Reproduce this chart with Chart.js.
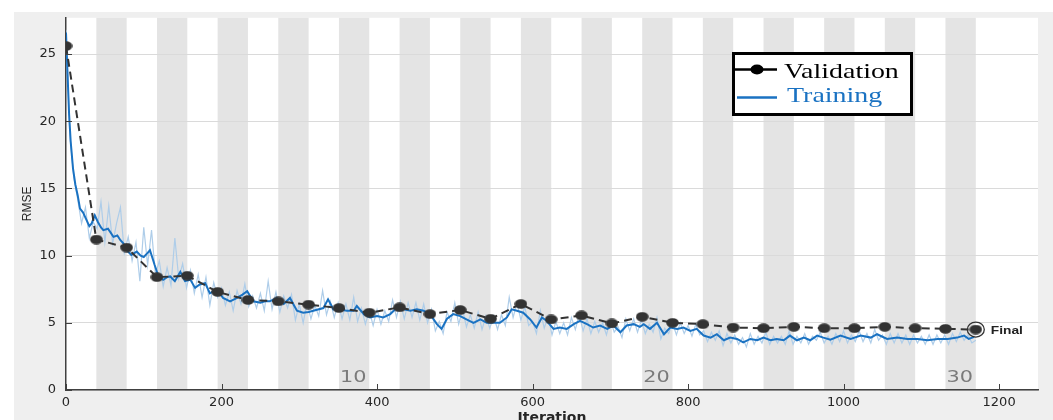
<!DOCTYPE html>
<html>
<head>
<meta charset="utf-8">
<script src="https://cdn.jsdelivr.net/npm/chart.js@4.4.1/dist/chart.umd.min.js"></script>
<style>
  html, body { margin: 0; padding: 0; background: #fff; }
  #wrap { width: 1053px; height: 420px; }
</style>
</head>
<body>
<div id="wrap"><canvas id="rmse" width="1053" height="420"></canvas></div>
<script>
// validation RMSE, one point per epoch
const valIter = [0, 39, 78, 117, 156, 195, 234, 273, 312, 351, 390, 429, 468, 507, 546, 585,
  624, 663, 702, 741, 780, 819, 858, 897, 936, 975, 1014, 1053, 1092, 1131, 1170];
const valRmse = [25.6, 11.2, 10.6, 8.4, 8.5, 7.3, 6.7, 6.6, 6.35, 6.1, 5.75, 6.15, 5.65, 5.95, 5.3, 6.4,
  5.25, 5.55, 4.95, 5.45, 5.0, 4.9, 4.65, 4.6, 4.7, 4.6, 4.6, 4.7, 4.6, 4.55, 4.5];

// smoothed training RMSE
const trainIter = [0, 2, 4, 6, 9, 12, 15, 18, 22, 26, 30, 33, 37, 41, 45, 48, 54, 61, 66, 70, 74, 78,
  84, 91, 96, 100, 105, 108, 114, 119, 125, 130, 134, 140, 147, 153, 160, 166, 172, 179, 185, 194,
  202, 211, 220, 227, 233, 241, 250, 256, 262, 271, 280, 288, 297, 305, 312, 318, 331, 337, 344,
  352, 361, 370, 374, 383, 391, 400, 408, 417, 425, 434, 443, 451, 460, 470, 477, 483, 490, 498,
  507, 515, 524, 533, 541, 550, 558, 567, 573, 580, 588, 597, 605, 612, 618, 627, 635, 644, 653,
  661, 670, 678, 687, 696, 704, 713, 721, 730, 738, 743, 751, 760, 769, 777, 786, 794, 803, 811,
  820, 829, 837, 846, 854, 863, 871, 880, 889, 897, 906, 914, 923, 931, 940, 949, 957, 966, 974,
  983, 996, 1009, 1022, 1035, 1043, 1056, 1069, 1082, 1095, 1108, 1121, 1134, 1146, 1155, 1161, 1168];
const trainRmse = [26.6, 23.5, 20.5, 18.5, 16.5, 15.3, 14.5, 13.5, 13.2, 12.7, 12.2, 12.4, 13.0, 12.5,
  12.1, 11.9, 12.0, 11.4, 11.5, 11.15, 10.9, 10.4, 10.05, 10.3, 10.0, 9.9, 10.2, 10.4, 9.3, 8.45,
  8.2, 8.4, 8.45, 8.1, 8.8, 8.1, 8.2, 7.6, 7.85, 7.95, 7.2, 7.5, 6.85, 6.6, 6.85, 7.1, 7.35, 6.6,
  6.5, 6.6, 6.6, 6.85, 6.4, 6.85, 5.9, 5.75, 5.8, 5.9, 6.1, 6.75, 6.0, 6.0, 5.9, 5.9, 6.25, 5.65,
  5.4, 5.5, 5.4, 5.65, 6.1, 6.0, 5.9, 6.0, 5.9, 5.5, 4.9, 4.55, 5.3, 5.65, 5.5, 5.25, 5.0, 5.25,
  5.0, 5.0, 5.0, 5.4, 6.0, 5.9, 5.75, 5.25, 4.65, 5.4, 5.15, 4.55, 4.65, 4.55, 4.9, 5.15, 4.9,
  4.65, 4.8, 4.55, 4.8, 4.3, 4.8, 4.9, 4.7, 4.9, 4.55, 5.0, 4.15, 4.65, 4.55, 4.65, 4.4, 4.55,
  4.05, 3.9, 4.15, 3.7, 3.9, 3.8, 3.55, 3.8, 3.7, 3.9, 3.7, 3.8, 3.7, 4.05, 3.7, 3.9, 3.7, 4.05,
  3.9, 3.75, 4.05, 3.8, 4.05, 3.9, 4.15, 3.8, 3.9, 3.8, 3.8, 3.7, 3.8, 3.8, 3.9, 4.05, 3.8, 3.95];

// raw training RMSE, sampled every rawStep iterations
const rawStep = 5;
const rawRmse = [
  26.8, 19.0, 15.8, 14.2, 12.4, 13.6, 11.3, 12.5, 12.0, 14.0,
  11.0, 13.7, 10.9, 12.4, 13.6, 10.2, 11.4, 9.6, 11.0, 8.1,
  12.1, 9.3, 11.9, 8.6, 9.6, 7.7, 9.1, 7.8, 11.3, 8.3,
  9.4, 7.6, 8.9, 7.2, 8.6, 6.9, 8.4, 6.3, 8.0, 6.9,
  7.6, 6.3, 7.3, 5.9, 7.4, 6.4, 7.9, 6.2, 7.0, 6.1,
  7.2, 5.9, 8.1, 6.0, 7.3, 5.8, 7.0, 6.1, 7.1, 5.2,
  6.4, 5.0, 6.5, 5.3, 6.3, 5.5, 7.4, 5.6, 6.6, 5.4,
  6.5, 5.3, 6.4, 5.2, 6.9, 5.1, 6.1, 4.9, 5.9, 4.8,
  6.0, 4.9, 5.9, 5.1, 6.7, 5.4, 6.6, 5.3, 6.5, 5.4,
  6.5, 5.2, 6.4, 5.0, 6.0, 4.4, 5.1, 4.2, 5.8, 5.1,
  6.5, 4.9, 6.0, 4.7, 5.6, 4.6, 5.8, 4.5, 5.5, 4.6,
  5.5, 4.5, 5.6, 4.8, 6.9, 5.4, 6.5, 5.2, 6.2, 4.8,
  5.1, 4.2, 5.9, 4.6, 5.5, 4.1, 5.1, 4.2, 5.0, 4.1,
  5.4, 4.5, 5.6, 4.4, 5.3, 4.2, 5.1, 4.3, 5.0, 4.1,
  5.2, 4.3, 4.7, 3.9, 5.3, 4.4, 5.3, 4.3, 5.2, 4.2,
  4.9, 4.3, 5.4, 3.8, 4.6, 4.2, 5.0, 4.1, 5.0, 4.2,
  4.8, 4.0, 4.9, 4.1, 4.4, 3.6, 4.3, 3.7, 4.4, 3.3,
  4.2, 3.5, 4.1, 3.4, 3.9, 3.2, 4.2, 3.4, 4.0, 3.5,
  4.3, 3.4, 4.0, 3.5, 4.0, 3.4, 4.4, 3.4, 4.0, 3.5,
  4.2, 3.4, 4.0, 3.7, 4.3, 3.5, 4.0, 3.4, 4.2, 3.6,
  4.4, 3.5, 4.1, 3.6, 4.4, 3.6, 4.2, 3.5, 4.5, 3.7,
  4.1, 3.4, 4.2, 3.5, 4.2, 3.5, 4.1, 3.4, 4.1, 3.5,
  4.0, 3.4, 4.1, 3.4, 4.1, 3.5, 4.1, 3.4, 4.2, 3.6,
  4.3, 3.7, 4.1, 3.5, 3.7
];

const xTicks = [0, 200, 400, 600, 800, 1000, 1200];
const yTicks = [0, 5, 10, 15, 20, 25];
const itersPerEpoch = 39;
const nEpochs = 30;
const epochMarks = [10, 20, 30];

const ink = '#262626';
const valColor = '#333333';
const trainColor = '#1a72c2';
const rawColor = '#aecde9';

// slightly wide dot, the picture is stretched sideways
const dot = document.createElement('canvas');
dot.width = 13; dot.height = 10;
const dctx = dot.getContext('2d');
dctx.fillStyle = valColor;
dctx.beginPath();
dctx.ellipse(6.5, 5, 6.3, 4.8, 0, 0, 2 * Math.PI);
dctx.fill();

function wideText(ctx, txt, x, y, sx) {
  ctx.save();
  ctx.translate(x, y);
  ctx.scale(sx, 1);
  ctx.fillText(txt, 0, 0);
  ctx.restore();
}

const backdrop = {
  id: 'backdrop',
  beforeDraw(chart) {
    const { ctx, chartArea: a, scales: { x } } = chart;
    ctx.save();
    ctx.fillStyle = '#ffffff';
    ctx.fillRect(0, 0, chart.width, chart.height);
    ctx.fillStyle = '#efefef';
    ctx.fillRect(14, 12, chart.width - 14, chart.height - 12);
    ctx.fillStyle = '#ffffff';
    ctx.fillRect(a.left, a.top, a.right - a.left, a.bottom - a.top);
    ctx.fillStyle = '#e4e4e4';
    for (let e = 2; e <= nEpochs; e += 2) {
      const x0 = x.getPixelForValue((e - 1) * itersPerEpoch);
      const x1 = x.getPixelForValue(e * itersPerEpoch);
      ctx.fillRect(x0, a.top, x1 - x0, a.bottom - a.top);
    }
    ctx.restore();
  }
};

const overlay = {
  id: 'overlay',
  afterDraw(chart) {
    const { ctx, chartArea: a, scales: { x, y } } = chart;
    ctx.save();

    // inward tick marks
    ctx.strokeStyle = '#404040';
    ctx.lineWidth = 1;
    xTicks.forEach(v => {
      const px = Math.round(x.getPixelForValue(v)) + 0.5;
      ctx.beginPath(); ctx.moveTo(px, a.bottom); ctx.lineTo(px, a.bottom - 6); ctx.stroke();
    });
    yTicks.forEach(v => {
      const py = Math.round(y.getPixelForValue(v)) + 0.5;
      ctx.beginPath(); ctx.moveTo(a.left, py); ctx.lineTo(a.left + 6, py); ctx.stroke();
    });

    // x axis title, partly cut by the bottom edge as in the picture
    ctx.fillStyle = ink;
    ctx.font = 'bold 14px "DejaVu Sans"';
    ctx.textAlign = 'center';
    ctx.textBaseline = 'top';
    wideText(ctx, 'Iteration', (a.left + a.right) / 2, 411, 1.0);
    ctx.textAlign = 'left';

    // epoch numbers
    ctx.fillStyle = '#7a7a7a';
    ctx.font = '16px "DejaVu Sans"';
    ctx.textBaseline = 'alphabetic';
    epochMarks.forEach(e => {
      wideText(ctx, String(e), x.getPixelForValue((e - 1) * itersPerEpoch) + 1, a.bottom - 8, 1.3);
    });

    // final point
    const last = valIter.length - 1;
    const fx = x.getPixelForValue(valIter[last]);
    const fy = y.getPixelForValue(valRmse[last]);
    ctx.strokeStyle = valColor;
    ctx.lineWidth = 1.3;
    ctx.beginPath(); ctx.ellipse(fx, fy, 8.5, 7.5, 0, 0, 2 * Math.PI); ctx.stroke();
    ctx.fillStyle = '#222';
    ctx.font = 'bold 11px "Liberation Sans"';
    wideText(ctx, 'Final', fx + 15, fy + 4, 1.25);

    // legend
    const lx = 732, ly = 52, lw = 181, lh = 64;
    ctx.fillStyle = '#ffffff';
    ctx.fillRect(lx, ly, lw, lh);
    ctx.strokeStyle = '#000';
    ctx.lineWidth = 3;
    ctx.strokeRect(lx + 1.5, ly + 1.5, lw - 3, lh - 3);
    ctx.lineWidth = 2.5;
    ctx.beginPath(); ctx.moveTo(735, 69.5); ctx.lineTo(777, 69.5); ctx.stroke();
    ctx.fillStyle = '#000';
    ctx.beginPath(); ctx.ellipse(757, 69.5, 6.5, 5, 0, 0, 2 * Math.PI); ctx.fill();
    ctx.strokeStyle = trainColor;
    ctx.beginPath(); ctx.moveTo(737, 97.5); ctx.lineTo(777, 97.5); ctx.stroke();
    ctx.font = '22px "Liberation Serif"';
    ctx.fillStyle = '#000';
    wideText(ctx, 'Validation', 784, 77.5, 1.27);
    ctx.fillStyle = trainColor;
    wideText(ctx, 'Training', 787, 101.5, 1.27);

    ctx.restore();
  }
};

new Chart(document.getElementById('rmse').getContext('2d'), {
  type: 'line',
  data: {
    datasets: [
      {
        label: 'Validation',
        data: valIter.map((it, i) => ({ x: it, y: valRmse[i] })),
        borderColor: valColor,
        borderWidth: 2,
        borderDash: [8, 5],
        pointStyle: dot,
        pointRadius: 5,
        tension: 0,
      },
      {
        label: 'Training',
        data: trainIter.map((it, i) => ({ x: it, y: trainRmse[i] })),
        borderColor: trainColor,
        borderWidth: 2,
        pointRadius: 0,
        tension: 0,
      },
      {
        label: 'Training (raw)',
        data: rawRmse.map((v, i) => ({ x: i * rawStep, y: v })),
        borderColor: rawColor,
        borderWidth: 1.2,
        pointRadius: 0,
        tension: 0,
      },
    ],
  },
  options: {
    responsive: false,
    maintainAspectRatio: false,
    animation: false,
    events: [],
    layout: { padding: { left: 0, top: 13, right: 15, bottom: 0 } },
    plugins: {
      legend: { display: false },
      tooltip: { enabled: false },
    },
    scales: {
      x: {
        type: 'linear',
        min: 0,
        max: 1250,
        afterBuildTicks: s => { s.ticks = xTicks.map(v => ({ value: v })); },
        afterFit: s => { s.height = 30; },
        grid: { display: false, drawTicks: false },
        border: { display: true, color: '#404040', width: 1.5 },
        ticks: {
          color: ink,
          padding: 5,
          maxRotation: 0,
          font: { family: 'DejaVu Sans', size: 13 },
          callback: v => String(v),
        },
        title: { display: false },
      },
      y: {
        min: 0,
        max: 27.7,
        afterBuildTicks: s => { s.ticks = yTicks.map(v => ({ value: v })); },
        afterFit: s => { s.width = 66; },
        grid: { color: '#dadada', lineWidth: 1, drawTicks: false },
        border: { display: true, color: '#404040', width: 1.5 },
        ticks: {
          color: ink,
          padding: 10,
          font: { family: 'DejaVu Sans', size: 13 },
        },
        title: {
          display: true,
          text: 'RMSE',
          color: ink,
          padding: { top: 20, bottom: 0 },
          font: { family: 'Liberation Sans', size: 12 },
        },
      },
    },
  },
  plugins: [backdrop, overlay],
});
</script>
</body>
</html>
